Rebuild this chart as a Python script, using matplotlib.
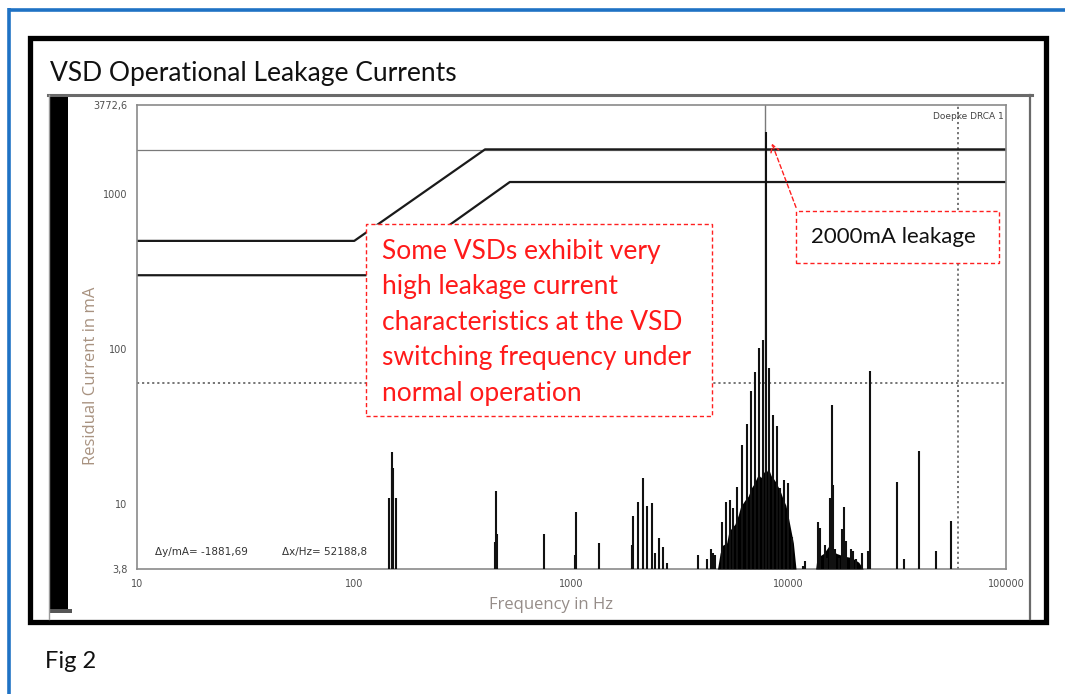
import matplotlib
matplotlib.use('Agg')
import matplotlib.pyplot as plt
from matplotlib.patches import Rectangle, FancyArrowPatch
from matplotlib.lines import Line2D

W, H = 1065, 694

# ---------------- data ----------------
x_ticks = [10, 100, 1000, 10000, 100000]
x_tick_labels = ['10', '100', '1000', '10000', '100000']
y_ticks = [3.8, 10, 100, 1000, 3772.6]
y_tick_labels = ['3,8', '10', '100', '1000', '3772,6']

limit_a_freq = [10, 100, 400, 100000]
limit_a_ma = [500, 500, 1950, 1950]
limit_b_freq = [10, 130, 520, 100000]
limit_b_ma = [300, 300, 1200, 1200]

cursor1 = (7750.0, 1941.69)
cursor2 = (59938.8, 60.0)

line_freq = [144.5, 148.5, 149.5, 150.5, 155.5,
             445, 449, 453, 747, 1040, 1050, 1340,
             1900, 1918, 2023, 2133, 2226, 2346, 2420, 2527, 2638, 2754,
             3818, 4207, 4387, 4480, 4600, 4932, 5140, 5370, 5550, 5780,
             6100, 6430, 6700, 6990, 7300, 7610, 7850, 8110, 8470, 8830,
             9150, 9510, 9900, 10400, 11600, 11900,
             13650, 13900, 14650, 15000, 15500, 15800, 16000, 16400, 17000,
             17600, 17950, 18400, 19350, 19800, 20300, 21700, 23200, 23650,
             31500, 34000, 39800, 47700, 55800]
line_ma = [11.0, 17.0, 21.6, 17.0, 11.0,
           5.7, 12.1, 6.4, 6.4, 4.7, 8.9, 5.6,
           5.4, 8.35, 10.3, 14.7, 9.7, 10.1, 4.8, 6.0, 5.3, 4.15,
           4.67, 4.4, 5.1, 4.8, 4.7, 7.6, 10.3, 10.6, 9.4, 12.8,
           24.0, 33.0, 54.0, 71.0, 102.0, 114.5, 2525.0, 75.0, 37.5, 32.0,
           12.7, 14.3, 13.6, 6.1, 3.97, 4.3,
           7.6, 7.0, 5.4, 4.5, 11.0, 43.5, 13.3, 5.1, 4.5,
           6.9, 9.5, 5.8, 5.1, 5.0, 4.4, 4.8, 5.0, 72.0,
           13.8, 4.4, 21.9, 5.0, 7.75]

# dense, unresolved part of the spectrum (outline of the black mass)
fill_freq = [4700, 4830, 4950, 5180, 5300, 5460, 5650, 5860, 6000, 6290,
             6500, 6750, 6900, 7240, 7450, 7640, 7800, 8060, 8300, 8500,
             8700, 8960, 9200, 9450, 9700, 9960, 10200, 10500, 10800]
fill_ma = [3.8, 4.8, 5.4, 5.6, 6.6, 7.0, 7.4, 8.5, 9.6, 10.6,
           11.2, 12.8, 13.4, 15.5, 14.8, 16.3, 15.6, 17.0, 15.2, 14.6,
           13.9, 12.8, 11.8, 10.6, 9.8, 8.2, 6.9, 5.6, 3.8]

fill2_freq = [13300, 13500, 14500, 15500, 16500, 18000, 19500, 21000, 22000]
fill2_ma = [3.8, 4.5, 4.8, 5.5, 4.8, 4.6, 4.5, 4.2, 3.8]

# ---------------- figure ----------------
fig = plt.figure(figsize=(W / 100, H / 100), dpi=100)
fig.patch.set_facecolor('white')


def fx(x):
    return x / W


def fy(y):
    return 1 - y / H


def fline(xs, ys, **kw):
    fig.add_artist(Line2D([fx(v) for v in xs], [fy(v) for v in ys],
                          transform=fig.transFigure, **kw))


# outer blue border (document frame)
fline([8, 1070], [9.5, 9.5], color='#1f72c4', lw=2.6, solid_capstyle='butt')
fline([8.5, 8.5], [8, 700], color='#1f72c4', lw=2.6, solid_capstyle='butt')

# black picture frame
fig.add_artist(Rectangle((fx(30), fy(622)), (1046 - 30) / W, (622 - 38) / H,
                         transform=fig.transFigure, fill=False,
                         edgecolor='black', lw=3.8))

# inner grey window frame
fline([48, 1032], [95, 95], color='#6a6a6a', lw=2.2)
fline([1030, 1030], [95, 619], color='#6a6a6a', lw=1.6)
fline([49, 49], [95, 619], color='#9a9a9a', lw=1.0)
fig.add_artist(Rectangle((fx(50), fy(610)), 18 / W, (610 - 97) / H,
                         transform=fig.transFigure, facecolor='black',
                         edgecolor='none'))
fig.add_artist(Rectangle((fx(50), fy(613)), 22 / W, 4 / H,
                         transform=fig.transFigure, facecolor='#555555',
                         edgecolor='none'))

# title and caption
fig.text(fx(50), fy(73), 'VSD Operational Leakage Currents', family='Lato',
         fontsize=19, color='#111111', ha='left', va='center')
fig.text(fx(45), fy(661), 'Fig 2', family='Lato', fontsize=17,
         color='#111111', ha='left', va='center')

# ---------------- axes ----------------
ax = fig.add_axes([fx(137), fy(569), (1006 - 137) / W, (569 - 105) / H])
ax.set_xscale('log')
ax.set_yscale('log')
ax.set_xlim(10, 100000)
ax.set_ylim(3.8, 3772.6)
ax.set_facecolor('white')
for s in ax.spines.values():
    s.set_color('#8a8a8a')
    s.set_linewidth(1.2)

ax.set_xticks(x_ticks)
ax.set_xticklabels(x_tick_labels)
ax.set_yticks(y_ticks)
ax.set_yticklabels(y_tick_labels)
ax.minorticks_off()
ax.tick_params(length=0, labelsize=7, labelcolor='#505050')
ax.tick_params(axis='y', pad=7)
ax.tick_params(axis='x', pad=7)

ax.set_xlabel('Frequency in Hz', family='Open Sans', fontsize=12,
              color='#958c88')
ax.set_ylabel('Residual Current in mA', family='Open Sans', fontsize=12,
              color='#a89280')
ax.xaxis.set_label_coords((551 - 137) / 869, -(605 - 569) / 464)
ax.yaxis.set_label_coords((91 - 137) / 869, (569 - 376) / 464)
ax.xaxis.label.set_va('center')
ax.yaxis.label.set_va('center')

# cursors
ax.axhline(cursor1[1], color='#7a7a7a', lw=0.9, zorder=1)
ax.axvline(cursor1[0], color='#7a7a7a', lw=1.0, zorder=1)
ax.axhline(cursor2[1], color='#6a6a6a', lw=1.3, ls=(0, (1.2, 1.6)), zorder=1)
ax.axvline(cursor2[0], color='#6a6a6a', lw=1.3, ls=(0, (1.2, 1.6)), zorder=1)

# limit curves
ax.plot(limit_a_freq, limit_a_ma, color='#1a1a1a', lw=1.6, zorder=2)
ax.plot(limit_b_freq, limit_b_ma, color='#1a1a1a', lw=1.6, zorder=2)

# spectrum
ax.fill_between(fill_freq, 3.8, fill_ma, color='black', lw=0, zorder=3)
ax.fill_between(fill2_freq, 3.8, fill2_ma, color='black', lw=0, zorder=3)
ax.vlines(line_freq, 3.8, line_ma, color='#111111', lw=1.5, zorder=4)

# in-chart texts
ax.text(0.997, 0.985, 'Doepke DRCA 1', transform=ax.transAxes, fontsize=6.5,
        color='#444444', ha='right', va='top')
ax.text(0.021, 0.026, '\u0394y/mA= -1881,69', transform=ax.transAxes,
        fontsize=7.5, color='#333333', ha='left', va='bottom')
ax.text(0.167, 0.026, '\u0394x/Hz= 52188,8', transform=ax.transAxes,
        fontsize=7.5, color='#333333', ha='left', va='bottom')

# ---------------- annotations ----------------
fig.add_artist(Rectangle((fx(366), fy(416)), (712 - 366) / W, (416 - 224) / H,
                         transform=fig.transFigure, facecolor='white',
                         edgecolor='#ff2020', lw=1.0, ls=(0, (3, 2)),
                         zorder=10))
fig.text(fx(382), fy(239),
         'Some VSDs exhibit very\nhigh leakage current\n'
         'characteristics at the VSD\nswitching frequency under\n'
         'normal operation', family='Lato', fontsize=19,
         color='#ff1a1a', ha='left', va='top', linespacing=1.52, zorder=11)

fig.add_artist(Rectangle((fx(796), fy(263)), (999 - 796) / W, (263 - 211) / H,
                         transform=fig.transFigure, facecolor='white',
                         edgecolor='#ff2020', lw=1.0, ls=(0, (3, 2)),
                         zorder=10))
fig.text(fx(811), fy(237), '2000mA leakage', family='Lato', fontsize=16,
         color='#111111', ha='left', va='center', zorder=11)

fig.add_artist(FancyArrowPatch((fx(797), fy(210)), (fx(771), fy(141)),
                               transform=fig.transFigure,
                               arrowstyle='->,head_length=5,head_width=3',
                               color='#ff2020', lw=1.0, ls=(0, (3, 2)),
                               zorder=12))

fig.savefig('out.png', dpi=100, facecolor='white')
